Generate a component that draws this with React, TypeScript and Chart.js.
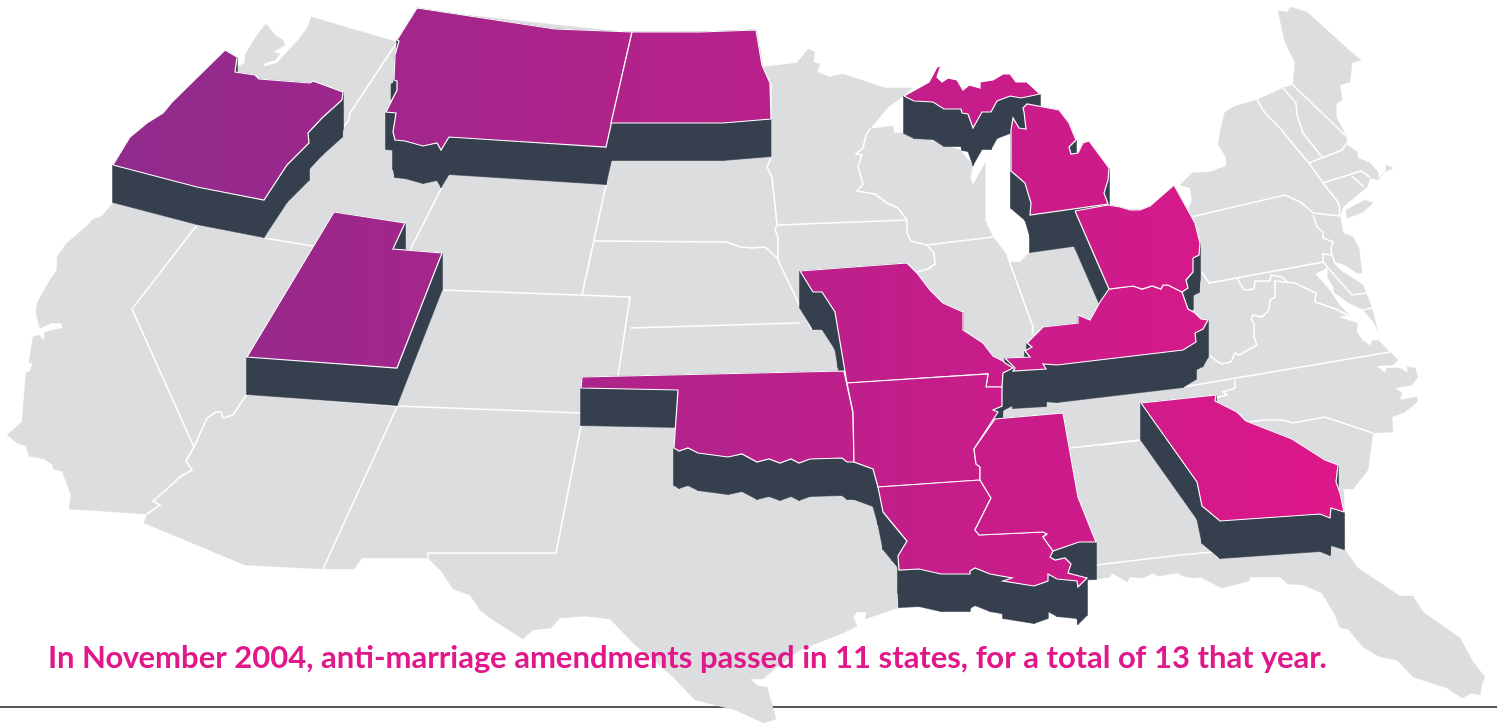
import React, { useEffect, useRef } from "react";
import { Chart, registerables } from "chart.js";

Chart.register(...registerables);

type P = [number, number];

const caption = "In November 2004, anti-marriage amendments passed in 11 states, for a total of 13 that year.";

const usaOutline: P[] = [
  [311,17],[397,42],[418,10],[632,33],[757,31],[763,67],[780,65],[797,63],[808,49],[815,52],[813,62],[820,64],[817,72],[830,77],[843,74],[885,88],[913,88],[905,95],[888,107],[870,129],[893,126],[894,133],[905,133],[930,140],[960,150],[973,165],[970,178],[973,185],[985,163],[985,220],[993,237],[1007,255],[1010,262],[1020,262],[1029,253],[1060,230],[1160,215],[1188,211],
  [1192,200],[1190,188],[1180,185],[1192,173],[1210,172],[1226,166],[1226,157],[1218,144],[1222,123],[1225,112],[1235,106],[1257,100],[1283,88],[1293,85],[1295,63],[1285,42],[1278,11],[1288,12],[1290,7],[1307,12],[1340,42],[1350,51],[1361,60],[1352,63],[1350,82],[1340,85],[1342,100],[1336,104],[1336,117],[1347,137],[1346,144],[1357,152],[1358,158],[1370,163],[1378,172],[1378,179],[1386,171],[1386,165],[1393,168],[1385,172],[1378,180],[1370,178],[1367,187],[1343,207],[1340,215],[1343,233],[1353,237],[1359,248],[1362,273],[1357,273],[1345,265],[1333,261],[1345,273],[1363,285],[1369,300],[1372,308],[1378,332],[1378,340],
  [1390,352],[1398,360],[1393,365],[1377,366],[1375,365],[1385,373],[1387,368],[1400,368],[1408,373],[1407,367],[1415,368],[1418,377],[1412,385],[1395,388],[1402,393],[1400,400],[1417,397],[1417,402],[1405,412],[1392,417],[1393,432],[1373,433],[1368,470],[1353,489],[1343,489],[1344,493],[1345,550],
  [1358,568],[1400,596],[1413,596],[1423,612],[1460,638],[1473,662],[1485,677],[1482,683],[1480,695],[1472,693],[1462,698],[1447,688],[1413,677],[1397,660],[1380,657],[1363,647],[1348,629],[1340,628],[1335,615],[1322,593],[1303,585],[1288,584],[1280,577],[1250,577],[1249,581],[1222,588],[1200,577],[1195,578],[1182,576],[1178,573],[1158,576],[1153,573],[1143,578],[1130,577],[1127,582],[1112,573],[1110,577],[1097,579],[1087,581],[1080,600],[1000,600],[898,608],
  [865,619],[867,612],[857,612],[853,617],[857,626],[843,633],[800,650],[777,667],[763,679],[750,679],[758,686],[767,687],[776,719],[764,723],[735,710],[695,700],[673,677],[663,668],[635,645],[610,619],[585,616],[560,618],[551,628],[533,630],[523,639],[490,618],[480,610],[470,595],[453,589],[442,572],[428,558],[362,558],[354,569],[323,569],[245,565],[144,523],[147,514],[69,509],[71,495],[62,471],[53,469],[53,465],[44,459],[29,456],[26,446],[17,443],[7,435],[22,422],[26,372],[29,372],[33,364],[29,362],[33,337],[39,335],[44,341],[45,332],[63,328],[61,323],[52,323],[40,328],[36,313],[37,303],[50,280],[57,270],[57,257],[67,243],[88,225],[92,220],[102,216],[113,203],[113,166],[225,51],[237,67],[245,63],[245,55],[257,35],[266,24],[275,35],[283,40],[285,45],[273,52],[280,54],[275,60],[265,63],[263,67],[277,63],[300,38],[308,27],
];
const longIsland: P[] = [[1347,218],[1346,210],[1365,200],[1373,203],[1363,212],[1348,218]];
const chesapeake: P[] = [[1316,274],[1327,268],[1327,277],[1333,287],[1333,292],[1348,303],[1363,310],[1373,322],[1378,332],[1378,340],[1372,340],[1370,345],[1363,340],[1357,332],[1358,323],[1340,317],[1350,315],[1340,305],[1330,290]];

const borders: P[][] = [
  [[397,42],[350,113],[349,120],[343,128]],
  [[197,225],[132,309],[194,447],[207,418],[216,412],[221,412],[223,418],[233,415],[247,394]],
  [[194,447],[186,461],[192,470],[180,477],[166,490],[153,501],[160,505],[147,514]],
  [[264,238],[313,246]],
  [[442,187],[410,250]],
  [[443,290],[630,297],[618,376]],
  [[606,185],[582,295]],
  [[594,241],[727,242],[740,247],[752,248],[765,247],[777,258],[797,300],[812,330]],
  [[771,158],[767,167],[772,177],[777,225],[775,230],[778,237],[778,258]],
  [[778,225],[907,220]],
  [[870,129],[866,135],[863,148],[856,154],[862,155],[858,166],[863,184],[857,191],[875,194],[887,203],[898,208],[907,220],[907,233],[911,241],[927,245],[993,237]],
  [[927,245],[934,253],[935,264],[928,269],[917,272]],
  [[630,328],[800,323]],
  [[1007,255],[1033,327],[1032,335]],
  [[397,407],[323,569]],
  [[247,394],[397,406],[581,413]],
  [[581,388],[581,426],[556,553],[428,553],[428,558]],
  [[1070,448],[1141,440]],
  [[1100,445],[1141,440]],
  [[1096,565],[1180,555],[1213,552]],
  [[1183,387],[1390,352]],
  [[1235,380],[1235,388],[1223,392],[1227,395],[1215,398]],
  [[1247,422],[1265,420],[1283,420],[1293,423],[1325,417],[1373,433]],
  [[1275,280],[1275,297],[1270,300],[1269,310],[1262,317],[1253,315],[1251,319],[1254,323],[1254,337],[1257,345],[1239,355],[1235,353],[1231,362],[1221,364],[1210,356]],
  [[1202,272],[1209,283],[1323,262],[1323,254],[1332,255]],
  [[1237,278],[1244,290],[1254,289],[1255,281],[1270,281],[1271,275],[1282,277],[1288,283]],
  [[1275,281],[1295,283],[1316,293],[1315,302],[1333,308],[1348,315]],
  [[1323,262],[1352,295],[1367,293]],
  [[1362,310],[1372,308]],
  [[1191,217],[1285,195],[1300,202],[1304,205],[1313,213],[1340,216]],
  [[1313,215],[1317,227],[1323,232],[1323,238],[1333,242],[1331,248],[1332,255],[1335,263],[1345,273]],
  [[1257,100],[1265,113],[1280,128],[1292,143],[1309,163],[1323,183],[1338,202],[1340,208],[1339,215]],
  [[1283,88],[1296,103],[1297,115],[1303,133],[1322,157]],
  [[1293,85],[1347,137]],
  [[1309,163],[1342,150],[1346,144]],
  [[1323,183],[1361,171],[1370,177]],
  [[1352,176],[1364,187]],
];

const oregon: P[] = [[113,165],[130,137],[147,123],[163,113],[172,102],[225,50],[237,57],[235,72],[255,75],[259,79],[310,83],[313,81],[343,92],[342,100],[322,118],[308,133],[309,143],[287,165],[264,200],[197,187]];
const utah: P[] = [[334,212],[405,223],[393,249],[442,253],[397,368],[247,357]];
const montana: P[] = [[417,8],[555,29],[632,32],[606,147],[449,137],[441,150],[437,143],[423,146],[405,141],[395,140],[393,132],[396,113],[386,112],[397,90],[397,81],[394,80],[395,55],[399,41],[397,40]];
const northDakota: P[] = [[632,32],[700,32],[756,30],[762,65],[770,83],[771,119],[723,123],[611,123]];
const oklahoma: P[] = [[582,377],[844,371],[853,413],[854,462],[847,462],[842,458],[810,459],[799,463],[791,459],[780,463],[769,459],[757,462],[742,454],[728,457],[698,453],[688,448],[679,451],[674,448],[678,390],[581,388]];
const missouri: P[] = [[800,271],[907,263],[917,273],[930,290],[943,303],[963,312],[963,330],[983,343],[993,356],[1003,361],[1005,363],[1013,368],[1003,373],[1002,387],[986,387],[988,374],[847,383],[838,330],[835,312],[822,292],[813,292]];
const arkansas: P[] = [[847,383],[988,374],[986,387],[1002,387],[1002,406],[993,410],[998,412],[974,449],[976,464],[980,467],[980,480],[878,487],[873,469],[854,462],[853,412]];
const louisiana: P[] = [[878,487],[980,480],[991,498],[975,530],[979,535],[1043,532],[1047,534],[1043,537],[1053,551],[1050,557],[1055,560],[1065,558],[1071,564],[1068,573],[1087,578],[1078,587],[1077,581],[1057,579],[1048,574],[1048,581],[1034,586],[1003,581],[1012,578],[990,574],[975,568],[970,571],[970,574],[941,574],[919,569],[899,570],[898,556],[907,541],[892,523],[883,512]];
const mississippi: P[] = [[995,419],[1063,413],[1078,497],[1096,542],[1079,542],[1053,551],[1043,537],[1047,534],[1043,532],[979,535],[975,530],[991,498],[980,480],[980,467],[976,464],[974,449]];
const kentucky: P[] = [[1005,358],[1030,357],[1025,351],[1032,347],[1027,343],[1037,333],[1043,327],[1078,323],[1078,315],[1090,320],[1100,302],[1109,289],[1133,286],[1142,289],[1152,286],[1161,289],[1163,285],[1168,285],[1182,292],[1188,309],[1195,313],[1201,319],[1208,320],[1203,329],[1195,333],[1196,342],[1183,350],[1057,365],[1043,364],[1046,369],[1013,371],[1015,368]];
const ohio: P[] = [[1075,211],[1108,205],[1120,207],[1130,210],[1140,210],[1150,206],[1174,185],[1195,223],[1200,243],[1199,255],[1193,258],[1193,272],[1186,280],[1188,288],[1182,292],[1168,285],[1163,285],[1161,289],[1152,286],[1142,289],[1133,286],[1109,289]];
const lowerMichigan: P[] = [[1011,130],[1013,118],[1019,128],[1026,129],[1024,112],[1023,108],[1027,104],[1059,110],[1069,123],[1076,140],[1069,147],[1071,154],[1078,153],[1083,143],[1089,141],[1109,168],[1108,180],[1104,193],[1108,204],[1030,215],[1031,203],[1025,183],[1011,171]];
const upperMichigan: P[] = [[904,96],[929,82],[937,67],[948,65],[940,68],[937,77],[942,82],[948,78],[957,80],[963,90],[969,85],[980,88],[980,82],[993,80],[1003,74],[1010,74],[1016,82],[1027,82],[1040,94],[1021,98],[1010,96],[997,101],[991,112],[982,112],[973,128],[968,114],[962,113],[961,109],[944,109],[933,102],[914,101]];
const upperMichiganShore: P[] = [[904,96],[1040,94],[1021,98],[1010,96],[997,101],[991,112],[982,112],[973,128],[968,114],[962,113],[961,109],[944,109],[933,102],[914,101]];
const georgia: P[] = [[1141,403],[1216,395],[1215,401],[1237,412],[1246,421],[1292,439],[1325,460],[1338,465],[1336,482],[1340,493],[1344,512],[1331,508],[1330,518],[1320,514],[1220,521],[1202,506],[1197,482]];
const idahoSliver: P[] = [[391,84],[397,81],[397,90],[391,100]];

const states: P[][] = [oregon, utah, montana, northDakota, oklahoma, missouri, arkansas, louisiana, mississippi, kentucky, ohio, lowerMichigan, upperMichigan, georgia];
const extruded: P[][] = [oregon, utah, montana, northDakota, oklahoma, missouri, arkansas, louisiana, mississippi, kentucky, ohio, lowerMichigan, upperMichiganShore, georgia];

const ruleLine: P[] = [[0,707],[1497,707]];
const depth = 37.5;
const gradientStops = { from: 113, to: 1344, colorFrom: "#8F2B8C", colorTo: "#DE1789" };
const GRAY = "#DCDDDF";
const DARK = "#353F4D";

const pts = (a: P[]) => a.map(([x, y]) => ({ x, y }));
const closed = (a: P[]) => pts([...a, a[0]]);

export default function App() {
  const ref = useRef<HTMLCanvasElement>(null);
  useEffect(() => {
    const canvas = ref.current!;
    const ctx = canvas.getContext("2d")!;
    const gradient = ctx.createLinearGradient(gradientStops.from, 0, gradientStops.to, 0);
    gradient.addColorStop(0, gradientStops.colorFrom);
    gradient.addColorStop(1, gradientStops.colorTo);

    const common = { showLine: true, pointRadius: 0, pointHoverRadius: 0, tension: 0 };
    const poly = (a: P[], fillColor: any, stroke: string, w: number) => ({
      ...common, data: closed(a), fill: "shape", backgroundColor: fillColor, borderColor: stroke, borderWidth: w,
    });
    const line = (a: P[], stroke: string, w: number) => ({
      ...common, data: pts(a), fill: false, borderColor: stroke, borderWidth: w,
    });

    const list: any[] = [];
    list.push(line(ruleLine, "#222222", 1.5));
    list.push(poly(usaOutline, GRAY, GRAY, 0.5));
    list.push(poly(longIsland, GRAY, GRAY, 0.5));
    list.push(poly(chesapeake, "#FFFFFF", "#FFFFFF", 0.5));
    borders.forEach((b) => list.push(line(b, "#FFFFFF", 1.6)));
    list.push(poly(idahoSliver, DARK, DARK, 0.5));
    extruded.forEach((s) => {
      s.forEach((p, i) => {
        const q = s[(i + 1) % s.length];
        list.push(poly([p, q, [q[0], q[1] + depth], [p[0], p[1] + depth]], DARK, DARK, 0.6));
      });
    });
    states.forEach((s) => list.push(poly(s, gradient, "#FFFFFF", 1.2)));
    list.forEach((d, i) => { d.order = list.length - i; });

    const chart = new Chart(canvas, {
      type: "scatter",
      data: { datasets: list },
      options: {
        animation: false,
        responsive: false,
        events: [],
        layout: { padding: 0 },
        scales: {
          x: { type: "linear", display: false, min: 0, max: 1497 },
          y: { type: "linear", display: false, min: 0, max: 723, reverse: true },
        },
        plugins: { legend: { display: false }, tooltip: { enabled: false }, title: { display: false } },
      },
      plugins: [{
        id: "caption",
        afterDraw(c: any) {
          const g = c.ctx;
          g.save();
          g.font = "700 31px Lato, sans-serif";
          g.fillStyle = "#E0188A";
          g.textBaseline = "alphabetic";
          g.fillText(caption, c.scales.x.getPixelForValue(48), c.scales.y.getPixelForValue(668));
          g.restore();
        },
      }],
    } as any);
    return () => chart.destroy();
  }, []);
  return <canvas ref={ref} width={1497} height={723} style={{ position: "absolute", left: 0, top: 0, display: "block" }} />;
}
